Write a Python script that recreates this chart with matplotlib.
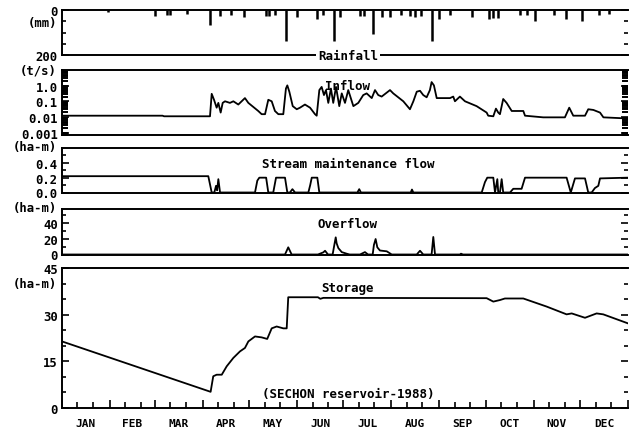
import matplotlib
matplotlib.use("Agg")
import matplotlib.pyplot as plt
from matplotlib.ticker import FixedLocator, LogLocator, NullFormatter, NullLocator
import matplotlib.transforms as mtransforms

plt.rcParams['font.family'] = ['DejaVu Sans Mono', 'DejaVu Sans']
plt.rcParams['font.weight'] = 'bold'

# ---------------- data (day of year 1988, 0..366) ----------------
months = ["JAN", "FEB", "MAR", "APR", "MAY", "JUN", "JUL", "AUG", "SEP", "OCT", "NOV", "DEC"]
month_starts = [0, 31, 60, 91, 121, 152, 182, 213, 244, 274, 305, 335, 366]

rain_day = [30, 60, 68, 70, 81, 96, 102, 109, 118, 132, 134, 138, 145, 152, 165, 169, 176, 180, 193, 195,
            201, 207, 212, 219, 225, 228, 232, 239, 244, 251, 265, 276, 279, 282, 296, 301, 306, 318, 326, 336,
            347, 354]
rain_mm = [10, 25, 22, 22, 18, 65, 25, 20, 32, 25, 25, 20, 136, 32, 40, 22, 136, 32, 28, 28,
           107, 32, 30, 20, 25, 32, 28, 136, 40, 20, 30, 40, 35, 35, 20, 20, 47, 20, 40, 47,
           20, 18]

inflow_day = [0, 65, 66, 95.7, 96.8, 98.3, 100, 101.1, 102.6, 103.9, 105.4, 108.6, 110.8, 114, 118.3, 120.5,
              126.9, 129.1, 131.3, 133.4, 135.6, 137.7, 139.9, 143.1, 144.8, 145.7, 147, 149.2, 151.8, 153.9,
              157.1, 160.4, 163.6, 164.7, 166.4, 167.9, 169.4, 170.7, 172.2, 173.9, 175.4, 177.2, 179.3, 180.9,
              183, 185.1, 188.4, 191.6, 194.8, 197, 200.3, 202.4, 204.5, 206.7, 212.1, 214.2, 220.7, 225,
              227.2, 229.4, 231.5, 233.6, 235.8, 237.9, 239, 240.5, 242.3, 250.9, 253, 254.1, 257.3, 260.6,
              268.1, 274.6, 275.6, 278.9, 280.6, 282.1, 283.2, 285.3, 287.5, 290.8, 298.3, 299.4, 311.2, 325.2,
              328, 330.6, 338.2, 340.3, 343.6, 347.9, 350.1, 363, 366]
inflow_val = [0.012, 0.012, 0.011, 0.011, 0.3, 0.125, 0.039, 0.079, 0.019, 0.079, 0.1, 0.079, 0.1, 0.062, 0.16, 0.079,
              0.024, 0.015, 0.015, 0.125, 0.1, 0.024, 0.015, 0.015, 0.65, 1.04, 0.41, 0.049, 0.031, 0.039,
              0.062, 0.039, 0.015, 0.012, 0.52, 0.83, 0.25, 0.52, 0.079, 0.65, 0.079, 0.83, 0.049, 0.32,
              0.079, 0.52, 0.049, 0.079, 0.25, 0.32, 0.16, 0.52, 0.25, 0.2, 0.52, 0.32, 0.1, 0.031,
              0.1, 0.41, 0.47, 0.25, 0.18, 0.52, 1.69, 1.04, 0.16, 0.16, 0.2, 0.1, 0.2, 0.1,
              0.049, 0.019, 0.012, 0.011, 0.034, 0.019, 0.015, 0.14, 0.079, 0.024, 0.024, 0.012, 0.0094, 0.0094,
              0.039, 0.012, 0.012, 0.031, 0.028, 0.019, 0.0094, 0.0082, 0.0082]

stream_day = [0, 94.6, 96.8, 98.5, 99.6, 100.3, 101.1, 102.2, 124.8, 126.3, 127.6, 132, 133.4, 136.6, 138.4,
              144.2, 145.7, 147.4, 149, 150.7, 159.3, 160.5, 161.5, 165.1, 166.4, 191, 192.2, 193.3,
              225.5, 226.3, 227.2, 271.4, 273.5, 275, 278.9, 280, 281.5, 282.1, 283.2, 284.3, 285.3,
              289.7, 291.8, 297.2, 299.4, 326.3, 329, 331.7, 338.2, 340.3, 342.5, 344.6, 346.8, 347.9, 366]
stream_val = [0.22, 0.22, 0.0, 0.0, 0.09, 0.03, 0.18, 0.0, 0.0, 0.16, 0.2, 0.2, 0.0, 0.0, 0.2,
              0.2, 0.0, 0.0, 0.045, 0.0, 0.0, 0.1, 0.2, 0.2, 0.0, 0.0, 0.045, 0.0,
              0.0, 0.04, 0.0, 0.0, 0.14, 0.2, 0.2, 0.0, 0.18, 0.0, 0.0, 0.18, 0.0,
              0.0, 0.05, 0.05, 0.2, 0.2, 0.0, 0.19, 0.19, 0.0, 0.0, 0.06, 0.09, 0.19, 0.2]

over_day = [0, 144.2, 146.3, 148.5, 165.5, 169, 170.1, 172, 175, 176.1, 177, 177.6, 178.7, 180.9, 184.1, 186,
            192.7, 195.9, 197.9, 200.9, 201.7, 202.8, 203.9, 205.6, 210, 213.2, 229.4, 231.5, 233.6,
            239, 240.1, 241.2, 257.3, 258, 259.3, 366]
over_val = [0, 0, 9, 0, 0, 2.7, 4.7, 0, 0, 12, 21.5, 14, 8, 3, 1, 0,
            0, 3, 0, 0, 12, 19.4, 9, 5, 4, 0, 0, 4.7, 0,
            0, 22, 0, 0, 1, 0, 0]

storage_day = [0, 96.1, 97.8, 100, 103.3, 106.5, 110.8, 115.1, 118.3, 120.5, 124.8, 129.1, 132.7, 135.6,
               138.8, 143.1, 145.3, 146.3, 165.5, 167, 169, 274.6, 278.9, 283.2, 286.4, 298.3, 313.4,
               326.3, 329.6, 338.2, 345.7, 350, 366]
storage_val = [21.4, 5.2, 10.2, 10.7, 10.7, 13.4, 16.1, 18.2, 19.3, 21.4, 23.0, 22.7, 22.2, 25.6,
               26.2, 25.6, 25.6, 35.6, 35.6, 35.1, 35.4, 35.3, 34.2, 34.7, 35.2, 35.2, 32.6,
               30.1, 30.4, 29.0, 30.4, 30.1, 27.2]

# ---------------- layout ----------------
W, H = 629, 435
fig = plt.figure(figsize=(W / 100, H / 100), dpi=100)

def rect(top, bottom, left=62, right=628):
    return [left / W, 1 - bottom / H, (right - left) / W, (bottom - top) / H]

TICKFS = 8.8
TITLEFS = 9
LW = 1.3

def style(ax):
    ax.set_xlim(0, 366)
    ax.spines['right'].set_visible(False)
    for s in ['left', 'top', 'bottom']:
        ax.spines[s].set_linewidth(1.4)
    ax.tick_params(axis='y', which='both', direction='in', left=True, right=True,
                   labelsize=TICKFS, pad=3, width=1.2)
    ax.tick_params(axis='y', which='major', length=5)
    ax.tick_params(axis='y', which='minor', length=3)
    ax.xaxis.set_major_locator(NullLocator())
    ax.xaxis.set_minor_locator(NullLocator())
    ax.set_facecolor('white')

def unit(text, ypx):
    fig.text(57 / W, 1 - ypx / H, text, ha='right', va='center', fontsize=TICKFS, fontweight='bold')

# Panel 1: rainfall
ax1 = fig.add_axes(rect(11, 56))
style(ax1)
ax1.vlines(rain_day, 0, rain_mm, colors='black', linewidth=1.8)
ax1.set_ylim(200, 0)
ax1.set_yticks([0, 200])
ax1.set_yticklabels(["0", "200"])
ax1.yaxis.set_minor_locator(FixedLocator([50, 100, 150]))
unit("(mm)", 24)
ax1.text(0.505, 0.0, "Rainfall", transform=ax1.transAxes, ha='center', va='center',
         fontsize=TITLEFS, fontweight='bold',
         bbox=dict(facecolor='white', edgecolor='none', pad=1.5))

# Panel 2: inflow
ax2 = fig.add_axes(rect(71, 136))
style(ax2)
ax2.plot(inflow_day, inflow_val, color='black', linewidth=LW)
ax2.set_yscale('log')
ax2.set_ylim(0.0007, 10)
ax2.set_yticks([1, 0.1, 0.01, 0.001])
ax2.set_yticklabels(["1.0", "0.1", "0.01", "0.001"])
ax2.yaxis.set_minor_locator(LogLocator(base=10, subs=[2, 3, 4, 5, 6, 7, 8, 9], numticks=20))
ax2.yaxis.set_minor_formatter(NullFormatter())
ax2.tick_params(axis='y', which='minor', length=4, width=1.4)
unit("(t/s)", 70.5)
ax2.text(0.505, 0.76, "Inflow", transform=ax2.transAxes, ha='center', va='center',
         fontsize=TITLEFS, fontweight='bold')

# Panel 3: stream maintenance flow
ax3 = fig.add_axes(rect(149, 193.5))
style(ax3)
ax3.plot(stream_day, stream_val, color='black', linewidth=LW)
ax3.set_ylim(0, 0.6)
ax3.set_yticks([0.0, 0.2, 0.4])
ax3.set_yticklabels(["0.0", "0.2", "0.4"])
ax3.yaxis.set_minor_locator(FixedLocator([0.1, 0.3, 0.5]))
unit("(ha-m)", 147)
ax3.text(0.505, 0.66, "Stream maintenance flow", transform=ax3.transAxes, ha='center', va='center',
         fontsize=TITLEFS, fontweight='bold')

# Panel 4: overflow
ax4 = fig.add_axes(rect(210, 255.5))
style(ax4)
ax4.plot(over_day, over_val, color='black', linewidth=LW)
ax4.set_ylim(0, 57)
ax4.set_yticks([0, 20, 40])
ax4.set_yticklabels(["0", "20", "40"])
ax4.yaxis.set_minor_locator(FixedLocator([10, 30, 50]))
unit("(ha-m)", 209)
ax4.text(0.505, 0.68, "Overflow", transform=ax4.transAxes, ha='center', va='center',
         fontsize=TITLEFS, fontweight='bold')

# Panel 5: storage
ax5 = fig.add_axes(rect(269, 409))
style(ax5)
ax5.plot(storage_day, storage_val, color='black', linewidth=LW)
ax5.set_ylim(0, 45)
ax5.set_yticks([0, 15, 30, 45])
ax5.set_yticklabels(["0", "15", "30", "45"])
ax5.yaxis.set_minor_locator(FixedLocator([5, 10, 20, 25, 35, 40]))
unit("(ha-m)", 285)
ax5.text(0.505, 0.86, "Storage", transform=ax5.transAxes, ha='center', va='center',
         fontsize=TITLEFS, fontweight='bold')
ax5.text(0.505, 0.10, "(SECHON reservoir-1988)", transform=ax5.transAxes, ha='center', va='center',
         fontsize=TITLEFS, fontweight='bold')

# x ticks: month boundaries (major) and 10-day marks (minor)
minor_x = []
for i in range(12):
    for d in (10, 20):
        minor_x.append(month_starts[i] + d)
ax5.xaxis.set_major_locator(FixedLocator(month_starts))
ax5.xaxis.set_minor_locator(FixedLocator(minor_x))
ax5.tick_params(axis='x', which='both', direction='in', bottom=True, top=False, labelbottom=False, width=1.2)
ax5.tick_params(axis='x', which='major', length=6)
ax5.tick_params(axis='x', which='minor', length=4)

trans = mtransforms.blended_transform_factory(ax5.transData, ax5.transAxes)
for i, m in enumerate(months):
    mid = (month_starts[i] + month_starts[i + 1]) / 2
    ax5.text(mid, -0.105, m, transform=trans, ha='center', va='center', fontsize=8, fontweight='bold',
             clip_on=False)

fig.savefig("out.png", dpi=100, facecolor='white')
